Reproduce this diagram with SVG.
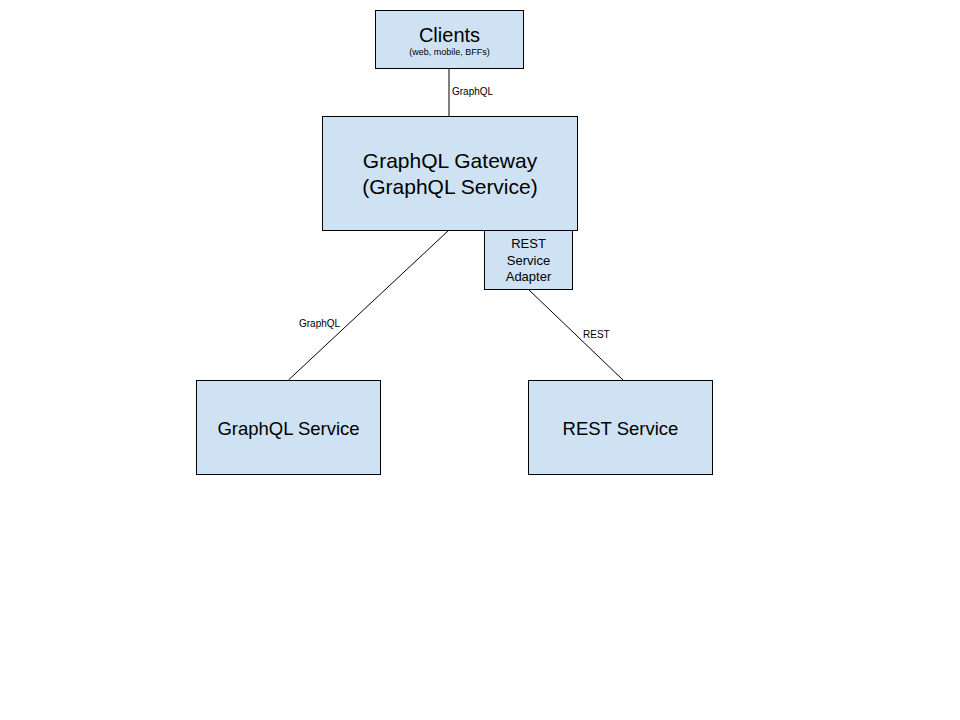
<svg xmlns="http://www.w3.org/2000/svg" width="960" height="720" viewBox="0 0 960 720">
<style>
.box{fill:#cfe2f3;stroke:#000;stroke-width:1}
.t{font-family:"Liberation Sans",Arial,sans-serif;fill:#000;text-anchor:middle}
.lbl{font-family:"Liberation Sans",Arial,sans-serif;fill:#000;font-size:10px}
.c{stroke:#000;stroke-width:1;fill:none}
</style>
<rect width="960" height="720" fill="#fff"/>
<g id="connectors">
<line class="c" x1="449" y1="68" x2="449" y2="116"/>
<text class="lbl" x="452" y="95">GraphQL</text>
<line class="c" x1="449" y1="230" x2="288.5" y2="380"/>
<text class="lbl" x="299" y="327">GraphQL</text>
<line class="c" x1="528" y1="289" x2="623" y2="380"/>
<text class="lbl" x="583" y="338">REST</text>
</g>
<g id="clients">
<rect class="box" x="375.5" y="10.5" width="148" height="58"/>
<text class="t" x="449.5" y="42" font-size="20">Clients</text>
<text class="t" x="449.5" y="55" font-size="9">(web, mobile, BFFs)</text>
</g>
<g id="gateway">
<rect class="box" x="322.5" y="116.5" width="255" height="114"/>
<text class="t" x="450" y="168" font-size="21">GraphQL Gateway</text>
<text class="t" x="450" y="194" font-size="21">(GraphQL Service)</text>
</g>
<g id="adapter">
<rect class="box" x="484.5" y="230.5" width="88" height="59"/>
<text class="t" x="528.5" y="248" font-size="13">REST</text>
<text class="t" x="528.5" y="265" font-size="13">Service</text>
<text class="t" x="528.5" y="281" font-size="13">Adapter</text>
</g>
<g id="graphql-service">
<rect class="box" x="196.5" y="380.5" width="184" height="94"/>
<text class="t" x="288.5" y="435" font-size="18.5">GraphQL Service</text>
</g>
<g id="rest-service">
<rect class="box" x="528.5" y="380.5" width="184" height="94"/>
<text class="t" x="620.5" y="435" font-size="18.5">REST Service</text>
</g>
</svg>
